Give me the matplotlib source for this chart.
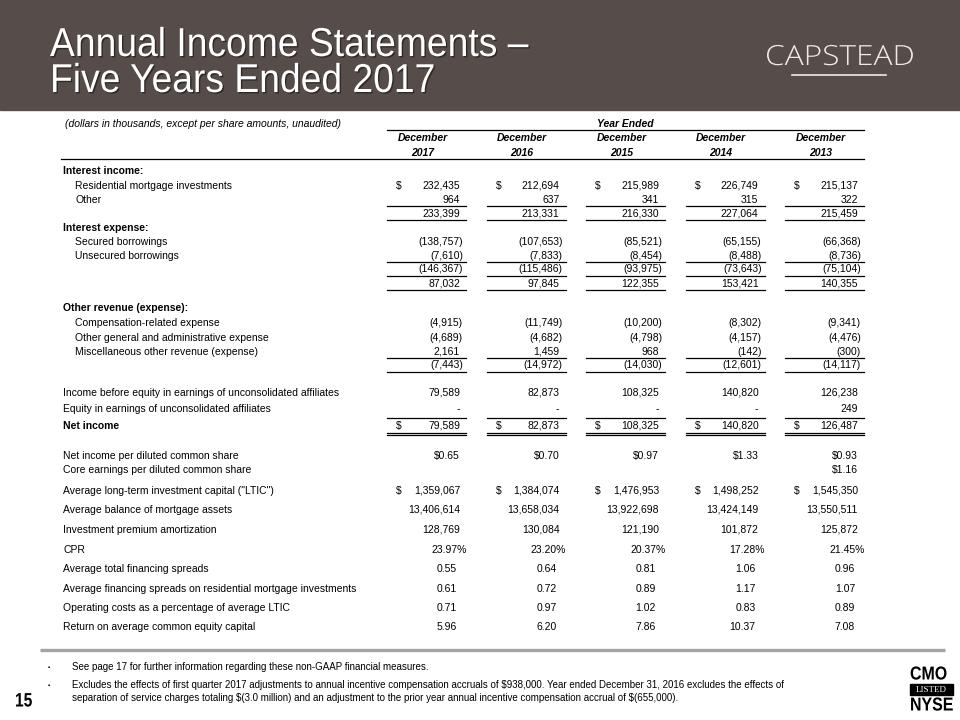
import matplotlib.pyplot as plt
from matplotlib import patheffects as pe
from matplotlib import colors as mcolors
from matplotlib.transforms import Affine2D

# values in thousands unless noted, columns are 2017 .. 2013
years = ['2017', '2016', '2015', '2014', '2013']
resi_income = [232435, 212694, 215989, 226749, 215137]
other_income = [964, 637, 341, 315, 322]
total_interest_income = [233399, 213331, 216330, 227064, 215459]
secured_borrowings = [-138757, -107653, -85521, -65155, -66368]
unsecured_borrowings = [-7610, -7833, -8454, -8488, -8736]
total_interest_expense = [-146367, -115486, -93975, -73643, -75104]
net_interest = [87032, 97845, 122355, 153421, 140355]
comp_expense = [-4915, -11749, -10200, -8302, -9341]
other_ga_expense = [-4689, -4682, -4798, -4157, -4476]
misc_revenue = [2161, 1459, 968, -142, -300]
total_other = [-7443, -14972, -14030, -12601, -14117]
income_before_equity = [79589, 82873, 108325, 140820, 126238]
equity_earnings = [None, None, None, None, 249]
net_income = [79589, 82873, 108325, 140820, 126487]
eps = [0.65, 0.70, 0.97, 1.33, 0.93]
core_eps = [None, None, None, None, 1.16]
avg_ltic = [1359067, 1384074, 1476953, 1498252, 1545350]
avg_mortgage_assets = [13406614, 13658034, 13922698, 13424149, 13550511]
premium_amort = [128769, 130084, 121190, 101872, 125872]
cpr = [23.97, 23.20, 20.37, 17.28, 21.45]
total_spreads = [0.55, 0.64, 0.81, 1.06, 0.96]
resi_spreads = [0.61, 0.72, 0.89, 1.17, 1.07]
opex_pct_ltic = [0.71, 0.97, 1.02, 0.83, 0.89]
roe = [5.96, 6.20, 7.86, 10.37, 7.08]

footnote_lines = [
    'See page 17 for further information regarding these non-GAAP financial measures.',
    'Excludes the effects of first quarter 2017 adjustments to annual incentive compensation accruals of $938,000. '
    'Year ended December 31, 2016 excludes the effects of',
    'separation of service charges totaling $(3.0 million) and an adjustment to the prior year annual '
    'incentive compensation accrual of $(655,000).',
]

plt.rcParams['font.family'] = ['Liberation Sans', 'DejaVu Sans']

BROWN = '#564c49'
FS = 7.5


class Squeeze(pe.AbstractPathEffect):
    """Draw text glyphs scaled horizontally (stand-in for a narrow face)."""

    def __init__(self, sx=0.85, offset=(0, 0), color=None, alpha=None):
        super().__init__(offset)
        self.sx = sx
        self.color = None if color is None else mcolors.to_rgba(color)
        self.alpha = alpha

    def draw_path(self, renderer, gc, tpath, affine, rgbFace=None):
        gc0 = renderer.new_gc()
        gc0.copy_properties(gc)
        if self.color is not None:
            rgbFace = self.color
        if self.alpha is not None:
            gc0.set_alpha(self.alpha)
        aff = Affine2D().scale(self.sx, 1) + affine + self._offset_transform(renderer)
        renderer.draw_path(gc0, tpath, aff, rgbFace)
        gc0.restore()


def money(v):
    if v is None:
        return '-'
    if v < 0:
        return '({:,})'.format(-v)
    return '{:,}'.format(v)


fig = plt.figure(figsize=(9.6, 7.2), dpi=100)
ax = fig.add_axes([0, 0, 1, 1])
ax.set_xlim(0, 960)
ax.set_ylim(720, 0)
ax.axis('off')


def cell(x, y, s, **kw):
    # y is the visual middle of the row; place on a common baseline
    ax.text(x, y + 3.7, s, fontsize=kw.pop('fontsize', FS), va='baseline', **kw)


# header band
ax.add_patch(plt.Rectangle((0, 0), 960, 110, color=BROWN, zorder=0))
title_fx = [Squeeze(0.925, offset=(1, -1), color='black', alpha=0.45), Squeeze(0.925)]
ax.text(50, 56, 'Annual Income Statements \u2013', color='white', fontsize=29,
        va='baseline', path_effects=title_fx)
ax.text(50, 92, 'Five Years Ended 2017', color='white', fontsize=29,
        va='baseline', path_effects=title_fx)
ax.text(765, 58, 'CAPSTEAD', color='#eeeae6', fontsize=20, family='Open Sans', weight='light',
        ha='left', va='center', path_effects=[Squeeze(1.14)])
ax.plot([792, 886], [74.5, 74.5], color='#eeeae6', lw=1.2)

# column geometry
col_left = [387 + 99.5 * i for i in range(5)]
col_right = [x + 79 for x in col_left]
col_mid = [(a + b) / 2 - 4 for a, b in zip(col_left, col_right)]

cell(65, 123, '(dollars in thousands, except per share amounts, unaudited)', style='italic')
cell(625, 123, 'Year Ended', style='italic', weight='bold', ha='center')
ax.plot([col_left[0], col_right[-1]], [130, 130], color='black', lw=0.9)
for i, yr in enumerate(years):
    cell(col_mid[i], 137, 'December', style='italic', weight='bold', ha='center')
    cell(col_mid[i], 152, yr, style='italic', weight='bold', ha='center')
ax.plot([61, col_right[-1]], [158.5, 158.5], color='black', lw=0.9)

# (y, label, indent, bold, values, kind, dollar sign)
rows = [
    (170, 'Interest income:', 63, True, None, None, False),
    (185, 'Residential mortgage investments', 75, False, resi_income, 'acct', True),
    (199, 'Other', 75, False, other_income, 'acct', False),
    (213, '', 75, False, total_interest_income, 'acct', False),
    (227, 'Interest expense:', 63, True, None, None, False),
    (241, 'Secured borrowings', 75, False, secured_borrowings, 'acct', False),
    (255, 'Unsecured borrowings', 75, False, unsecured_borrowings, 'acct', False),
    (268, '', 75, False, total_interest_expense, 'acct', False),
    (283, '', 75, False, net_interest, 'acct', False),
    (307, 'Other revenue (expense):', 63, True, None, None, False),
    (322, 'Compensation-related expense', 75, False, comp_expense, 'acct', False),
    (337, 'Other general and administrative expense', 75, False, other_ga_expense, 'acct', False),
    (351, 'Miscellaneous other revenue (expense)', 75, False, misc_revenue, 'acct', False),
    (364, '', 75, False, total_other, 'acct', False),
    (392, 'Income before equity in earnings of unconsolidated affiliates', 63, False,
     income_before_equity, 'acct', False),
    (408, 'Equity in earnings of unconsolidated affiliates', 63, False, equity_earnings, 'acct', False),
    (425, 'Net income', 63, True, net_income, 'acct', True),
    (455, 'Net income per diluted common share', 63, False, eps, 'eps', False),
    (469, 'Core earnings per diluted common share', 63, False, core_eps, 'eps', False),
    (490, 'Average long-term investment capital ("LTIC")', 63, False, avg_ltic, 'plain', True),
    (509, 'Average balance of mortgage assets', 63, False, avg_mortgage_assets, 'plain', False),
    (529, 'Investment premium amortization', 63, False, premium_amort, 'plain', False),
    (549, 'CPR', 63, False, cpr, 'pct', False),
    (568, 'Average total financing spreads', 63, False, total_spreads, 'ratio', False),
    (588, 'Average financing spreads on residential mortgage investments', 63, False, resi_spreads, 'ratio', False),
    (607, 'Operating costs as a percentage of average LTIC', 63, False, opex_pct_ltic, 'ratio', False),
    (626, 'Return on average common equity capital', 63, False, roe, 'ratio', False),
]

for y, label, x0, bold, vals, kind, dollar in rows:
    if label:
        cell(x0, y, label, weight='bold' if bold else 'normal')
    if vals is None:
        continue
    for i, v in enumerate(vals):
        r = col_right[i]
        if kind == 'acct':
            txt = money(v)
            xr = r - 3 if (v is not None and v < 0) else r - 6
        elif kind == 'eps':
            if v is None:
                continue
            txt, xr = '${:.2f}'.format(v), r - 6
        elif kind == 'plain':
            txt, xr = '{:,}'.format(v), r - 6
        elif kind == 'pct':
            txt, xr = '{:.2f}%'.format(v), r + 0.5
        else:
            txt, xr = '{:.2f}'.format(v), r - 9
        cell(xr, y, txt, ha='right')
        if dollar:
            cell(col_left[i] + 9, y, '$', ha='left')

# rules under subtotals
for y in [206, 220, 261.5, 275.5, 289.5, 357.5, 371.5, 417.5]:
    for a, b in zip(col_left, col_right):
        ax.plot([a, b], [y, y], color='black', lw=0.9)
for a, b in zip(col_left, col_right):
    ax.plot([a, b], [432.5, 432.5], color='black', lw=0.9)
    ax.plot([a, b], [435, 435], color='black', lw=0.9)

# footer
ax.plot([40, 945], [649.5, 649.5], color='#a3a3a3', lw=2.4, solid_capstyle='butt')
for y, line in zip([667, 685, 698], footnote_lines):
    ax.text(72, y, line, fontsize=7.05, va='center', parse_math=False)
for y in [667, 685]:
    ax.text(48, y, '\u25aa', fontsize=4.5, va='center')
ax.text(15, 702, '15', fontsize=14, weight='bold', va='center', path_effects=[Squeeze(0.8)])

ax.text(910, 675, 'CMO', fontsize=13.5, weight='bold', ha='left', va='center', path_effects=[Squeeze(0.85)])
ax.add_patch(plt.Rectangle((910, 684), 43, 11, color='black'))
ax.text(931.5, 689.5, 'LISTED', fontsize=6.5, color='white', family='Liberation Serif', ha='center', va='center')
ax.text(910, 706, 'NYSE', fontsize=13.5, weight='bold', ha='left', va='center', path_effects=[Squeeze(0.85)])

fig.savefig('out.png', dpi=100)
